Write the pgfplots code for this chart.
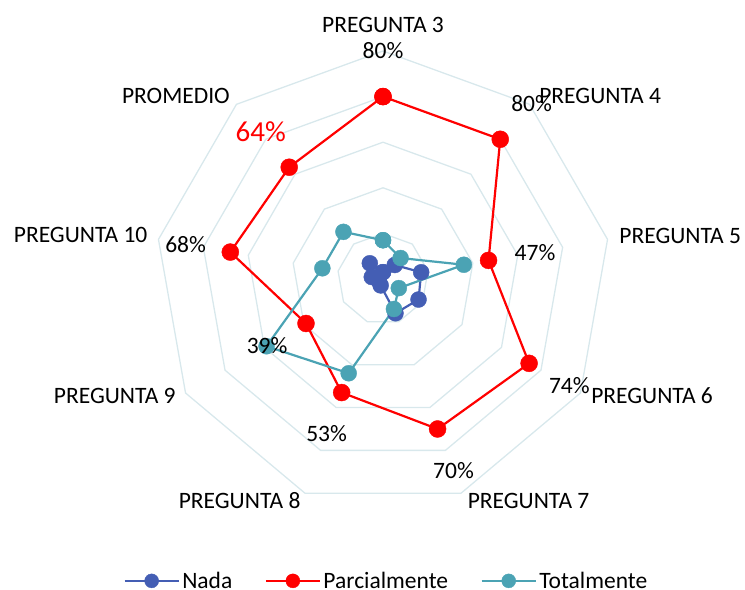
\documentclass[border=0pt]{standalone}
\usepackage{fontspec}
\setmainfont{Carlito}
\usepackage{pgfplots}
\pgfplotsset{compat=1.18}
\usepgfplotslibrary{polar}
\definecolor{nadac}{RGB}{68,94,180}
\definecolor{parc}{RGB}{255,0,0}
\definecolor{totc}{RGB}{75,163,180}
\definecolor{gridc}{RGB}{216,232,236}
\begin{document}
\begin{tikzpicture}[font=\fontsize{23.5bp}{28bp}\selectfont]
\begin{polaraxis}[
  set layers=standard,
  hide axis, scale only axis, width=456bp, height=456bp,
  xmin=0, xmax=360, ymin=0, ymax=100, clip=false,
  legend columns=3,
  legend style={draw=none, fill=none, at={(axis description cs:0.508,-0.162)}, anchor=center,
    font=\fontsize{23.5bp}{28bp}\selectfont, inner sep=0pt,
    nodes={inner sep=2.5bp},
    /tikz/every even column/.append style={column sep=30bp}},
  legend image code/.code={\draw[mark repeat=2, mark phase=2, #1, mark size=7bp] plot coordinates {(0bp,0bp) (27bp,0bp) (54bp,0bp)};},
]
\coordinate (c) at (axis cs:0,0);
\pgfplotsinvokeforeach{20,40,60,80,100}{
\addplot[gridc, line width=1.3bp, forget plot] coordinates {(90,#1) (50,#1) (10,#1) (330,#1) (290,#1) (250,#1) (210,#1) (170,#1) (130,#1) (90,#1)};
}
\addplot[nadac, line width=2.2bp, mark=*, mark size=8bp, mark options={fill=nadac, draw=nadac, line width=0.4bp}]
 coordinates {(90,3) (50,8) (10,17) (330,18) (290,16) (250,3) (210,2) (170,5) (130,9) (90,3)};
\addlegendentry{Nada}
\addplot[parc, line width=2.2bp, mark=*, mark size=8.5bp, mark options={fill=parc, draw=parc, line width=0.4bp}]
 coordinates {(90,80) (50,80) (10,47) (330,74) (290,70) (250,53) (210,39) (170,68) (130,64) (90,80)};
\addlegendentry{Parcialmente}
\addplot[totc, line width=2.2bp, mark=*, mark size=8bp, mark options={fill=totc, draw=totc, line width=0.4bp}]
 coordinates {(90,17) (50,12) (10,36) (330,8) (290,14) (250,44) (210,59) (170,27) (130,27) (90,17)};
\addlegendentry{Totalmente}
\begin{pgfonlayer}{axis foreground}
% data labels
\node at (axis cs:90,100.1) {80\%};
\node at (axis cs:49.8,101) {80\%};
\node[text=parc, font=\fontsize{29bp}{34bp}\selectfont] at (axis cs:129.8,83.8) {64\%};
\node at (axis cs:170,87.9) {68\%};
\node at (axis cs:10,67.7) {47\%};
\node at (axis cs:330.2,94.2) {74\%};
\node at (axis cs:290.2,89.6) {70\%};
\node at (axis cs:250,72.3) {53\%};
\node at (axis cs:210,58.7) {39\%};
% category labels
\node at (axis cs:90,111.6) {PREGUNTA 3};
\node at (axis cs:40.1,124.5) {PREGUNTA 4};
\node at (axis cs:8.2,131.7) {PREGUNTA 5};
\node at (axis cs:336.6,128.6) {PREGUNTA 6};
\node at (axis cs:303.3,116.3) {PREGUNTA 7};
\node at (axis cs:237.1,115.8) {PREGUNTA 8};
\node at (axis cs:203.5,128.3) {PREGUNTA 9};
\node at (axis cs:171.8,134) {PREGUNTA 10};
\node at (axis cs:138.5,121.3) {PROMEDIO};
\end{pgfonlayer}
\end{polaraxis}
\pgfresetboundingbox
\path[use as bounding box] ([shift={(-383bp,-311bp)}]c) rectangle ([shift={(362bp,279bp)}]c);
\end{tikzpicture}
\end{document}
